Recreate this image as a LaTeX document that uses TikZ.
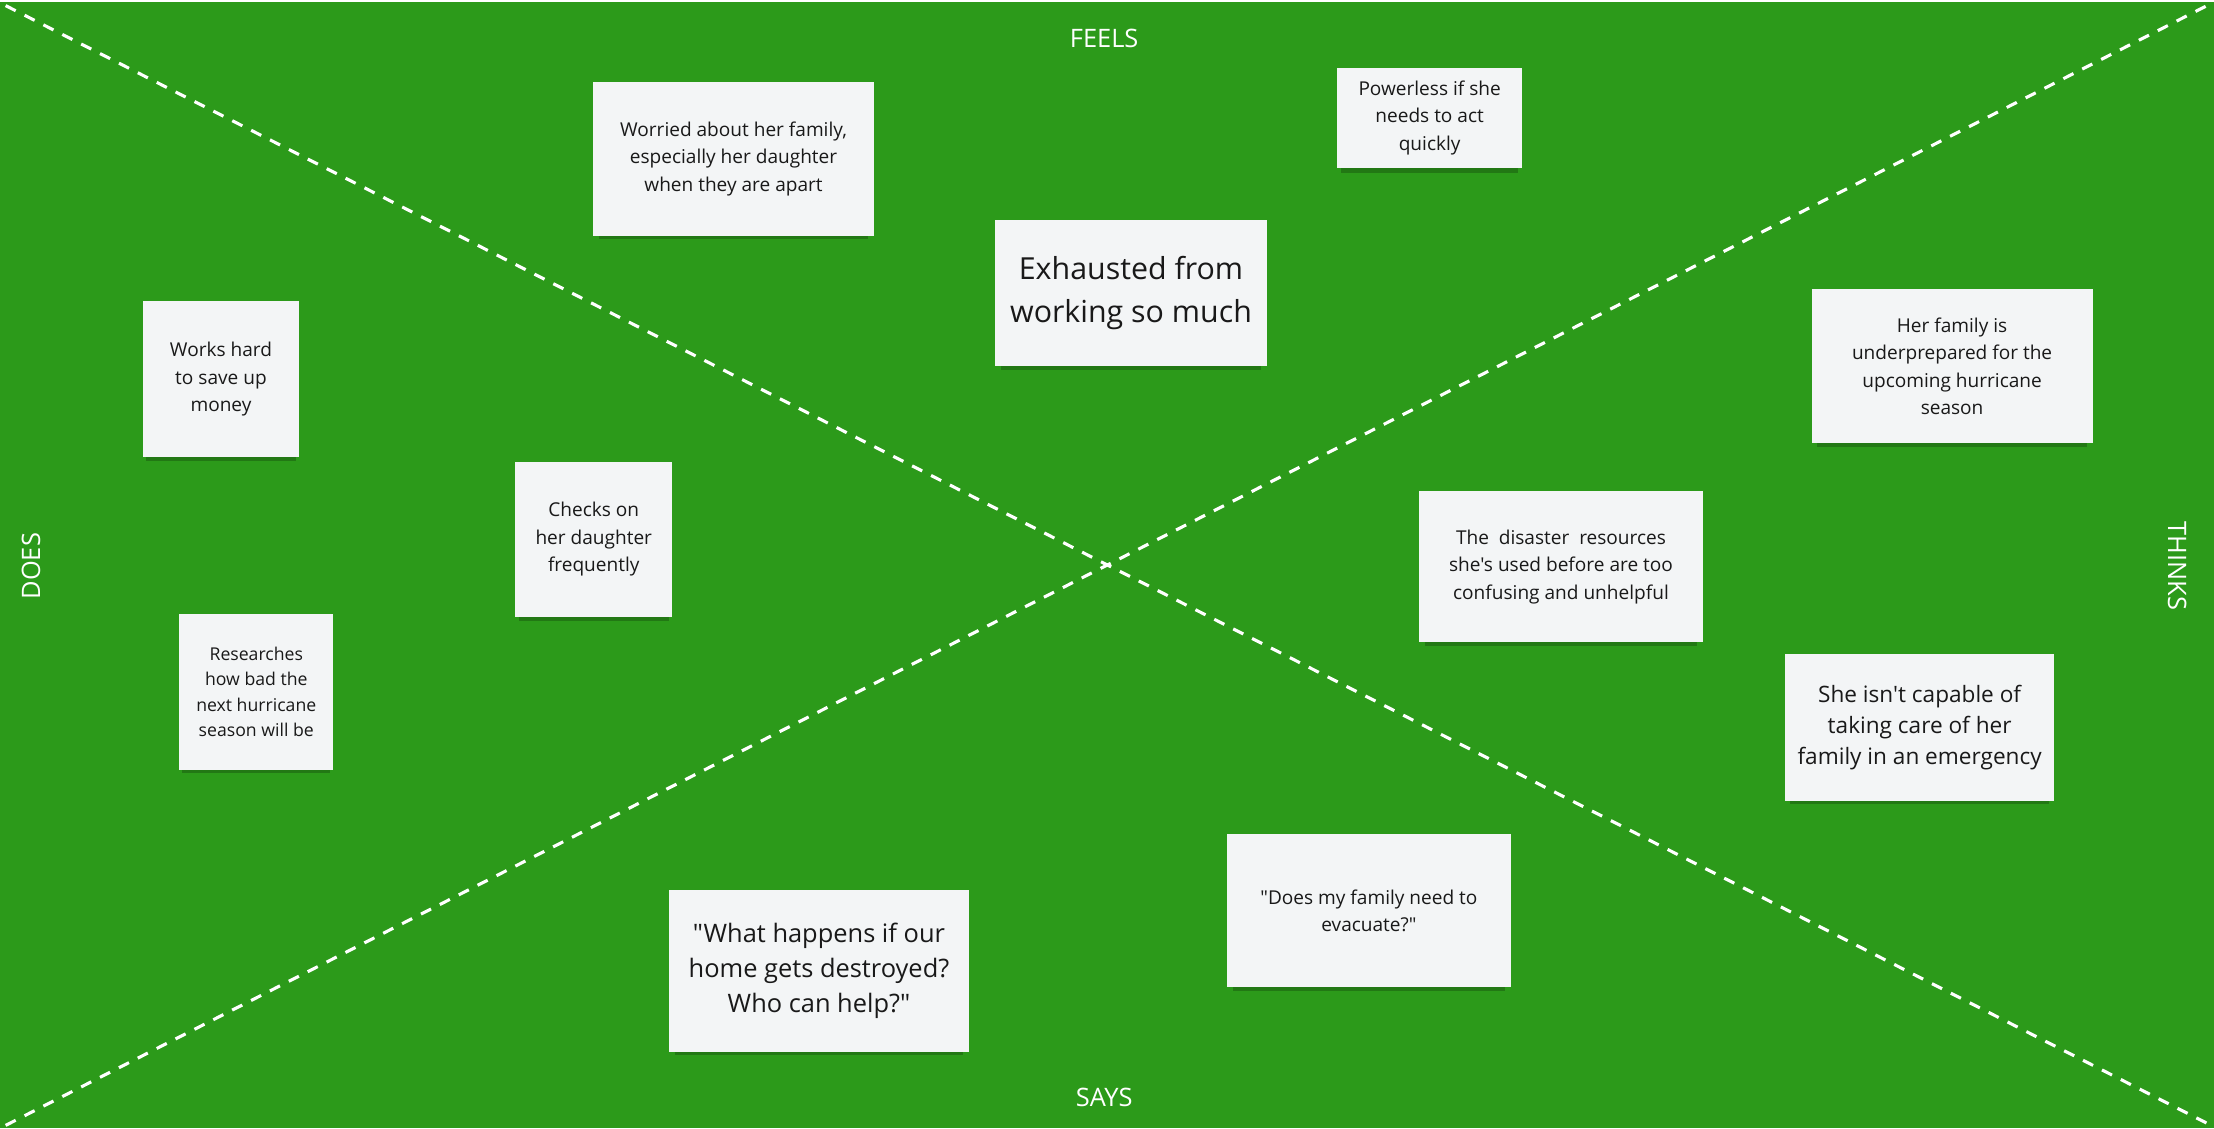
\documentclass[tikz,border=0pt]{standalone}
\usepackage{fontspec}
\setmainfont[Ligatures=TeXOff]{Open Sans}
\usetikzlibrary{shadows}
\definecolor{boardgreen}{RGB}{44,154,26}
\definecolor{notewhite}{RGB}{243,245,246}
\begin{document}
\begin{tikzpicture}[x=1pt,y=-1pt,
    note/.style={fill=notewhite, align=center, inner sep=0pt, text=black!90,
      drop shadow={shadow xshift=0pt, shadow yshift=-5pt, shadow scale=0.96, opacity=0.22, fill=black}},
    quadrant/.style={text=white, font=\fontsize{18}{21}\selectfont},
    small/.style={font=\fontsize{13.5}{19.5}\selectfont},
    tiny/.style={font=\fontsize{12.5}{18}\selectfont},
    medium/.style={font=\fontsize{16}{22}\selectfont},
    big/.style={font=\fontsize{18}{24.5}\selectfont},
    huge/.style={font=\fontsize{21.5}{30}\selectfont}]
    \useasboundingbox (0,0) rectangle (1568,799);
    \fill[boardgreen] (0,0) rectangle (1568,799);
    \fill[white] (0,0) rectangle (1568,1.5);

    % Corners and the two dashed diagonals
    \coordinate (tl) at (4,4);
    \coordinate (br) at (1564,796);
    \coordinate (tr) at (1565,3);
    \coordinate (bl) at (4,797);
    \draw[white, line width=2.2pt, dash pattern=on 8pt off 7pt] (tl) -- (br);
    \draw[white, line width=2.2pt, dash pattern=on 8pt off 7pt] (bl) -- (tr);

    % Quadrant titles
    \node[quadrant] (feels) at (782,27) {FEELS};
    \node[quadrant] (says) at (782,777) {SAYS};
    \node[quadrant, rotate=90] (does) at (22,401) {DOES};
    \node[quadrant, rotate=-90] (thinks) at (1542,401) {THINKS};

    % Feels
    \node[note, small, minimum width=199pt, minimum height=109pt] (worried) at (519.5,112.5)
      {Worried about her family,\\especially her daughter\\when they are apart};
    \node[note, small, minimum width=131pt, minimum height=71pt] (powerless) at (1012.5,83.5)
      {Powerless if she\\needs to act\\quickly};
    \node[note, huge, minimum width=192pt, minimum height=103pt] (exhausted) at (801,207.5)
      {Exhausted from\\working so much};

    % Does
    \node[note, small, minimum width=111pt, minimum height=111pt] (works) at (156.5,268.5)
      {Works hard\\to save up\\money};
    \node[note, small, minimum width=111pt, minimum height=110pt] (checks) at (420.5,382)
      {Checks on\\her daughter\\frequently};
    \node[note, tiny, minimum width=109pt, minimum height=110pt] (researches) at (181.5,490)
      {Researches\\how bad the\\next hurricane\\season will be};

    % Thinks
    \node[note, small, minimum width=199pt, minimum height=109pt] (underprepared) at (1382.5,259.5)
      {Her family is\\underprepared for the\\upcoming hurricane\\season};
    \node[note, small, minimum width=201pt, minimum height=107pt] (resources) at (1105.5,401.5)
      {The~ disaster~ resources\\she's used before are too\\confusing and unhelpful};
    \node[note, medium, minimum width=191pt, minimum height=104pt] (capable) at (1359.5,515)
      {She isn't capable of\\taking care of her\\family in an emergency};

    % Says
    \node[note, small, minimum width=201pt, minimum height=108pt] (evacuate) at (969.5,645)
      {"Does my family need to\\evacuate?"};
    \node[note, big, minimum width=212pt, minimum height=115pt] (happens) at (580,687.5)
      {"What happens if our\\home gets destroyed?\\Who can help?"};
\end{tikzpicture}
\end{document}
